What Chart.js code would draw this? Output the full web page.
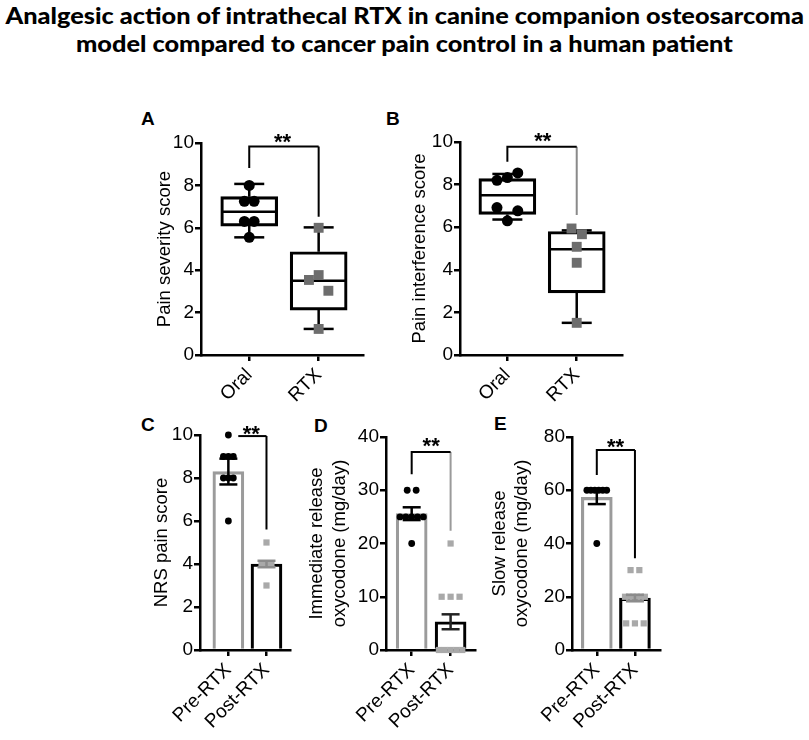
<!DOCTYPE html>
<html>
<head>
<meta charset="utf-8">
<script src="https://cdn.jsdelivr.net/npm/chart.js@4.4.1/dist/chart.umd.min.js"></script>
<style>
  body { margin: 0; background: #fff; width: 809px; height: 740px; position: relative; overflow: hidden; }
  canvas { position: absolute; }
  .title { position: absolute; left: 0; width: 809px; text-align: center; white-space: nowrap;
           font: 900 23px Lato, "Open Sans", sans-serif; line-height: 28px; color: #000; }
  .title span { display: inline-block; transform-origin: 50% 50%; }
  .lbl { position: absolute; font: bold 19px "Liberation Sans", Arial, sans-serif; line-height: 19px; color: #000; }
</style>
</head>
<body>
<div class="title" id="t1" style="top:1px"><span>Analgesic action of intrathecal RTX in canine companion osteosarcoma</span></div>
<div class="title" id="t2" style="top:29px"><span>model compared to cancer pain control in a human patient</span></div>
<div class="lbl" style="left:141px;top:109px">A</div>
<div class="lbl" style="left:386px;top:109px">B</div>
<div class="lbl" style="left:141px;top:415px">C</div>
<div class="lbl" style="left:314px;top:416px">D</div>
<div class="lbl" style="left:494px;top:414px">E</div>
<canvas id="cA"></canvas>
<canvas id="cB"></canvas>
<canvas id="cC"></canvas>
<canvas id="cD"></canvas>
<canvas id="cE"></canvas>
<script>
const boxCats = ['Oral', 'RTX'];
const barCats = ['Pre-RTX', 'Post-RTX'];
const ticks10 = [0, 2, 4, 6, 8, 10];
const ticks40 = [0, 10, 20, 30, 40];
const ticks80 = [0, 20, 40, 60, 80];

// A - pain severity, boxes are [min, q1, median, q3, max]
const sevOralBox = [5.55, 6.08, 6.76, 7.47, 8.07];
const sevRtxBox = [1.23, 2.12, 3.5, 4.87, 6.02];
const sevOral = [8.0, 7.25, 7.25, 6.3, 6.3, 5.55];
const sevRtx = [6.0, 3.54, 3.77, 3.03, 1.23];
const sevBracket = [8.82, 9.83, 6.52];

// B - pain interference
const intOralBox = [6.36, 6.6, 7.5, 8.28, 8.5];
const intRtxBox = [1.51, 2.92, 4.97, 5.8, 5.85];
const intOral = [8.2, 8.33, 8.55, 6.92, 6.3, 6.77];
const intRtx = [5.94, 5.67, 5.08, 4.33, 1.51];
const intBracket = [9.07, 9.78, 6.57];

// C - NRS pain score
const nrsPre = [10, 9, 9, 9, 8, 8, 8, 6];
const nrsPost = [5, 4, 4, 4, 3];
const nrsMean = [8.3, 4.0];
const nrsSem = [0.6, 0.15];
const nrsBracket = [null, 9.95, 5.6];

// D - immediate release oxycodone
const irPre = [30, 30, 25, 25, 25, 25, 25, 20];
const irPost = [20, 10, 10, 10, 0, 0, 0, 0, 0];
const irMean = [25.6, 5.3];
const irSem = [1.2, 1.4];
const irBracket = [33, 37.2, 22.4];

// E - slow release oxycodone
const srPre = [60, 60, 60, 60, 60, 60, 40];
const srPost = [30, 30, 20, 20, 20, 20, 20, 20, 10, 10, 10];
const srMean = [57.3, 19.5];
const srSem = [2.5, 1.2];
const srBracket = [65.7, 75.1, 34.5];

const FONT = '"Liberation Sans", Arial, sans-serif';
Chart.defaults.font.family = FONT;
Chart.defaults.color = '#000';

// fit title lines to the picture width
const t1 = document.querySelector('#t1 span');
const t2 = document.querySelector('#t2 span');
const k = 798 / t1.offsetWidth;
t1.style.transform = 'scaleX(' + k + ')';
t2.style.transform = 'scaleX(' + k + ')';

const starPlugin = {
  id: 'stars',
  afterDatasetsDraw(chart, args, opts) {
    const {ctx, scales: {x, y}} = chart;
    ctx.save();
    ctx.font = 'bold 22px ' + FONT;
    ctx.fillStyle = '#000';
    ctx.textAlign = 'center';
    const m = ctx.measureText('**');
    const px = x.getPixelForValue(opts.x);
    const py = y.getPixelForValue(opts.y);
    ctx.fillText('**', px, py + (m.actualBoundingBoxAscent - m.actualBoundingBoxDescent) / 2);
    ctx.restore();
  }
};

// spread equal-ish values sideways like a scatter dot plot
function spread(values, cx, tol, step, maxHalf) {
  const groups = [];
  values.forEach((v, i) => {
    const g = groups.find(g => Math.abs(values[g[0]] - v) <= tol);
    if (g) g.push(i); else groups.push([i]);
  });
  const out = [];
  groups.forEach(g => {
    const n = g.length;
    const s = n > 1 ? Math.min(step, 2 * maxHalf / (n - 1)) : 0;
    g.forEach((idx, j) => { out[idx] = {x: cx + (j - (n - 1) / 2) * s, y: values[idx]}; });
  });
  return out;
}

function seg(data, color, width, order) {
  return {type: 'line', data, borderColor: color, borderWidth: width, pointRadius: 0,
          fill: false, tension: 0, spanGaps: false, order, clip: false};
}

function caps(data, color, width, half, order) {
  return {type: 'scatter', data, pointStyle: 'line', pointRadius: half, pointBorderColor: color,
          borderColor: color, pointBorderWidth: width, order, clip: false};
}

function dots(data, style, color, r, order) {
  return {type: 'scatter', data, pointStyle: style, pointRadius: r, pointBackgroundColor: color,
          backgroundColor: color, pointBorderWidth: 0, order, clip: false};
}

function bracketSets(b, from, legColor) {
  const left = b[0] === null ? [{x: from, y: b[1]}] : [{x: 1, y: b[0]}, {x: 1, y: b[1]}];
  return [
    seg(left.concat([{x: 2, y: b[1]}]), '#000', 2, 1),
    seg([{x: 2, y: b[1]}, {x: 2, y: b[2]}], legColor, 2, 1)
  ];
}

function boxSets(boxes, pts, bracket, legColor, jit) {
  const sets = [{
    type: 'bar',
    data: boxes.map((b, i) => ({x: i + 1, y: [b[1], b[3]]})),
    backgroundColor: 'rgba(255,255,255,0)', borderColor: '#000', borderWidth: 2.5,
    borderSkipped: false, barThickness: 57, order: 6, clip: false
  }];
  const wh = [];
  boxes.forEach((b, i) => {
    wh.push({x: i + 1, y: b[3]}, {x: i + 1, y: b[4]}, {x: i + 1, y: null});
    wh.push({x: i + 1, y: b[0]}, {x: i + 1, y: b[1]}, {x: i + 1, y: null});
  });
  sets.push(seg(wh, '#000', 2.5, 5));
  sets.push(caps(boxes.flatMap((b, i) => [{x: i + 1, y: b[0]}, {x: i + 1, y: b[4]}]), '#000', 2.5, 15, 5));
  sets.push(caps(boxes.map((b, i) => ({x: i + 1, y: b[2]})), '#000', 2.5, 27, 5));
  sets.push(dots(spread(pts[0], 1, jit.tol, jit.step, jit.max), 'circle', '#000', 5.5, 3));
  sets.push(dots(spread(pts[1], 2, jit.tol, jit.step, jit.max), 'rect', '#6d6d6d', 7, 3));
  return sets.concat(bracketSets(bracket, 1, legColor));
}

function barSets(means, sems, pts, bracket, from, legColor, errColors, jit) {
  const sets = [{
    type: 'bar',
    data: means.map((m, i) => ({x: i + 1, y: m})),
    backgroundColor: 'rgba(255,255,255,0)', borderColor: ['#9b9b9b', '#000'], borderWidth: 2.5,
    barThickness: 31, order: 6, clip: false
  }];
  sets.push(dots(spread(pts[0], 1, jit.tol, jit.step, jit.max), 'circle', '#000', 3.4, 4));
  sets.push(dots(spread(pts[1], 2, jit.tol, jit.step, jit.max), 'rect', '#a9a9a9', 4.4, 4));
  means.forEach((m, i) => {
    const lo = {x: i + 1, y: m - sems[i]}, hi = {x: i + 1, y: m + sems[i]};
    sets.push(seg([lo, hi], errColors[i], 2.5, 2));
    sets.push(caps([lo, hi], errColors[i], 2.5, 9, 2));
  });
  return sets.concat(bracketSets(bracket, from, legColor));
}

function makeChart(id, g, yTicks, cats, title, datasets, stars) {
  const cv = document.getElementById(id);
  const w = g.xEnd - g.left, h = g.bottom - g.top;
  Object.assign(cv.style, {left: g.left + 'px', top: g.top + 'px', width: w + 'px', height: h + 'px'});
  cv.width = w;
  cv.height = h;
  const grid = {offset: false, drawOnChartArea: false, drawTicks: true, tickLength: 6, color: '#000', lineWidth: 2.5};
  const border = {display: true, color: '#000', width: 2.5};
  new Chart(cv, {
    type: 'bar',
    data: {datasets},
    options: {
      responsive: false,
      animation: false,
      events: [],
      devicePixelRatio: 1,
      layout: {padding: {top: g.yTop - g.top, left: 0, right: 0, bottom: 0}},
      plugins: {legend: {display: false}, tooltip: {enabled: false}, stars},
      scales: {
        x: {
          type: 'linear', min: g.xMin, max: g.xMax, offset: false,
          afterBuildTicks: s => { s.ticks = cats.map((c, i) => ({value: i + 1})); },
          afterFit: s => { s.height = g.bottom - g.yZero; },
          ticks: {autoSkip: false, minRotation: 45, maxRotation: 45, padding: 3, font: {size: 19},
                  callback: v => cats[Math.round(v) - 1]},
          grid, border
        },
        y: {
          type: 'linear', min: 0, max: yTicks[yTicks.length - 1],
          afterBuildTicks: s => { s.ticks = yTicks.map(v => ({value: v})); },
          afterFit: s => { s.width = g.axisX - g.left; },
          ticks: {padding: 1, font: {size: 19}},
          grid, border,
          title: {display: true, text: title, color: '#000', font: {size: 18.5, lineHeight: g.lh / 18.5},
                  padding: {top: g.titleX - g.left - g.lh / 2, bottom: 0}}
        }
      }
    },
    plugins: [starPlugin]
  });
}

makeChart('cA',
  {left: 140, top: 100, axisX: 201, yTop: 143, yZero: 355, xEnd: 393, bottom: 420, titleX: 165, lh: 22, xMin: 0.305, xMax: 2.646},
  ticks10, boxCats, 'Pain severity score',
  boxSets([sevOralBox, sevRtxBox], [sevOral, sevRtx], sevBracket, '#000', {tol: 0.7, step: 0.14, max: 1}),
  {x: 1.48, y: 10.2});

makeChart('cB',
  {left: 395, top: 100, axisX: 460, yTop: 142, yZero: 355, xEnd: 652, bottom: 420, titleX: 420, lh: 22, xMin: 0.317, xMax: 2.66},
  ticks10, boxCats, 'Pain interference score',
  boxSets([intOralBox, intRtxBox], [intOral, intRtx], intBracket, '#8a8a8a', {tol: 0.7, step: 0.15, max: 1}),
  {x: 1.51, y: 10.22});

makeChart('cC',
  {left: 135, top: 395, axisX: 200, yTop: 435, yZero: 650, xEnd: 302, bottom: 740, titleX: 162, lh: 22, xMin: 0.256, xMax: 2.63},
  ticks10, barCats, 'NRS pain score',
  barSets(nrsMean, nrsSem, [nrsPre, nrsPost], nrsBracket, 1.26, '#000', ['#000', '#8c8c8c'], {tol: 0.5, step: 0.13, max: 1}),
  {x: 1.6, y: 10.19});

makeChart('cD',
  {left: 300, top: 395, axisX: 386, yTop: 437, yZero: 650, xEnd: 487, bottom: 740, titleX: 317, lh: 23, xMin: 0.34, xMax: 2.64},
  ticks40, barCats, ['Immediate release', 'oxycodone (mg/day)'],
  barSets(irMean, irSem, [irPre, irPost], irBracket, 1, '#9a9a9a', ['#000', '#222'], {tol: 2, step: 0.23, max: 0.3}),
  {x: 1.5, y: 39.06});

makeChart('cE',
  {left: 485, top: 395, axisX: 572, yTop: 437, yZero: 650, xEnd: 672, bottom: 740, titleX: 500, lh: 22, xMin: 0.35, xMax: 2.67},
  ticks80, barCats, ['Slow release', 'oxycodone (mg/day)'],
  barSets(srMean, srSem, [srPre, srPost], srBracket, 1, '#000', ['#000', '#8c8c8c'], {tol: 4, step: 0.23, max: 0.26}),
  {x: 1.49, y: 77.7});
</script>
</body>
</html>
